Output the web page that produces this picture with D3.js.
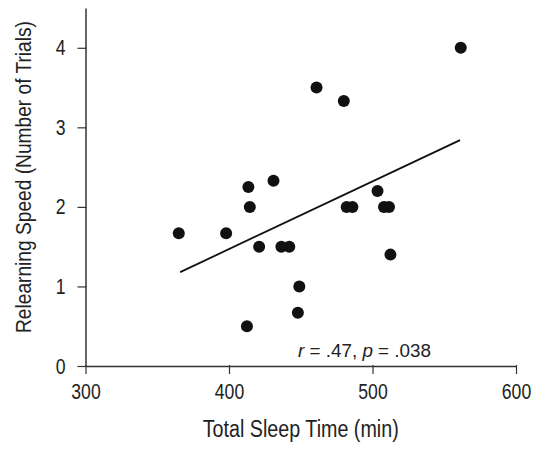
<!DOCTYPE html>
<html>
<head>
<meta charset="utf-8">
<script src="https://cdn.jsdelivr.net/npm/d3@7"></script>
<style>
  body { margin: 0; background: #fff; }
  svg text { font-family: "Liberation Sans", Arial, sans-serif; fill: #222; }
</style>
</head>
<body>
<div id="chart"></div>
<script>
// total sleep time (min) and relearning speed (number of trials)
var sleepTime = [365, 398, 413.5, 414.5, 431, 421, 436.5, 442, 449, 448, 412.5, 461, 480, 482, 486, 503.5, 508, 511.5, 512.5, 561.5];
var relearning = [1.67, 1.67, 2.25, 2.0, 2.33, 1.5, 1.5, 1.5, 1.0, 0.67, 0.5, 3.5, 3.33, 2.0, 2.0, 2.2, 2.0, 2.0, 1.4, 4.0];

// fitted line, end points
var fitX = [366, 561];
var fitY = [1.18, 2.84];

var xTicks = [300, 400, 500, 600];
var yTicks = [0, 1, 2, 3, 4];

var width = 547,
height = 450,
margin = {top: 8, right: 31, bottom: 84, left: 85.5};

var svg = d3.select("#chart")
.append("svg")
.attr("width", width)
.attr("height", height);

var x = d3.scaleLinear()
.domain([300, 600])
.range([margin.left, width - margin.right]);

var y = d3.scaleLinear()
.domain([0, 4.5])
.range([height - margin.bottom, margin.top]);

// the figure uses a condensed face; squeeze the installed sans to match
function condense(sel, k) {
  sel.each(function() {
    var w = this.getComputedTextLength();
    d3.select(this).attr("textLength", w * k).attr("lengthAdjust", "spacingAndGlyphs");
  });
}

var xAxis = d3.axisBottom(x).tickValues(xTicks).tickSize(8).tickSizeOuter(0).tickPadding(9).tickFormat(d3.format("d"));
var yAxis = d3.axisLeft(y).tickValues(yTicks).tickSize(8).tickSizeOuter(0).tickPadding(12).tickFormat(d3.format("d"));

var gx = svg.append("g")
.attr("transform", "translate(0," + (height - margin.bottom) + ")")
.call(xAxis);
gx.selectAll(".tick line").attr("y1", -1);

var gy = svg.append("g")
.attr("transform", "translate(" + margin.left + ",0)")
.call(yAxis);
gy.selectAll(".tick line").attr("x1", 1);

svg.selectAll(".domain").attr("stroke", "#333").attr("stroke-width", 1.5);
svg.selectAll(".tick line").attr("stroke", "#333").attr("stroke-width", 1.2);
svg.selectAll(".tick text")
.attr("font-size", 22)
.attr("fill", "#222")
.attr("font-family", "Liberation Sans, Arial, sans-serif")
.call(condense, 0.8);

svg.append("text")
.attr("x", (x.range()[0] + x.range()[1]) / 2)
.attr("y", 437)
.attr("text-anchor", "middle")
.attr("font-size", 23)
.attr("textLength", 196)
.attr("lengthAdjust", "spacingAndGlyphs")
.text("Total Sleep Time (min)");

svg.append("text")
.attr("transform", "translate(31,177) rotate(-90)")
.attr("text-anchor", "middle")
.attr("font-size", 22)
.attr("textLength", 312)
.attr("lengthAdjust", "spacingAndGlyphs")
.text("Relearning Speed (Number of Trials)");

var line = d3.line()
.x(function(d) { return x(d[0]); })
.y(function(d) { return y(d[1]); });

svg.append("path")
.attr("d", line(d3.zip(fitX, fitY)))
.style("fill", "none")
.style("stroke", "#111")
.style("stroke-width", 1.8);

svg.selectAll("circle")
.data(d3.zip(sleepTime, relearning))
.enter()
.append("circle")
.attr("cx", function(d) { return x(d[0]); })
.attr("cy", function(d) { return y(d[1]); })
.attr("r", 6)
.style("fill", "#111");

var note = svg.append("text")
.attr("x", 298)
.attr("y", 357)
.attr("font-size", 18)
.attr("textLength", 133)
.attr("lengthAdjust", "spacingAndGlyphs");
note.append("tspan").attr("font-style", "italic").text("r");
note.append("tspan").text(" = .47, ");
note.append("tspan").attr("font-style", "italic").text("p");
note.append("tspan").text(" = .038");
</script>
</body>
</html>
